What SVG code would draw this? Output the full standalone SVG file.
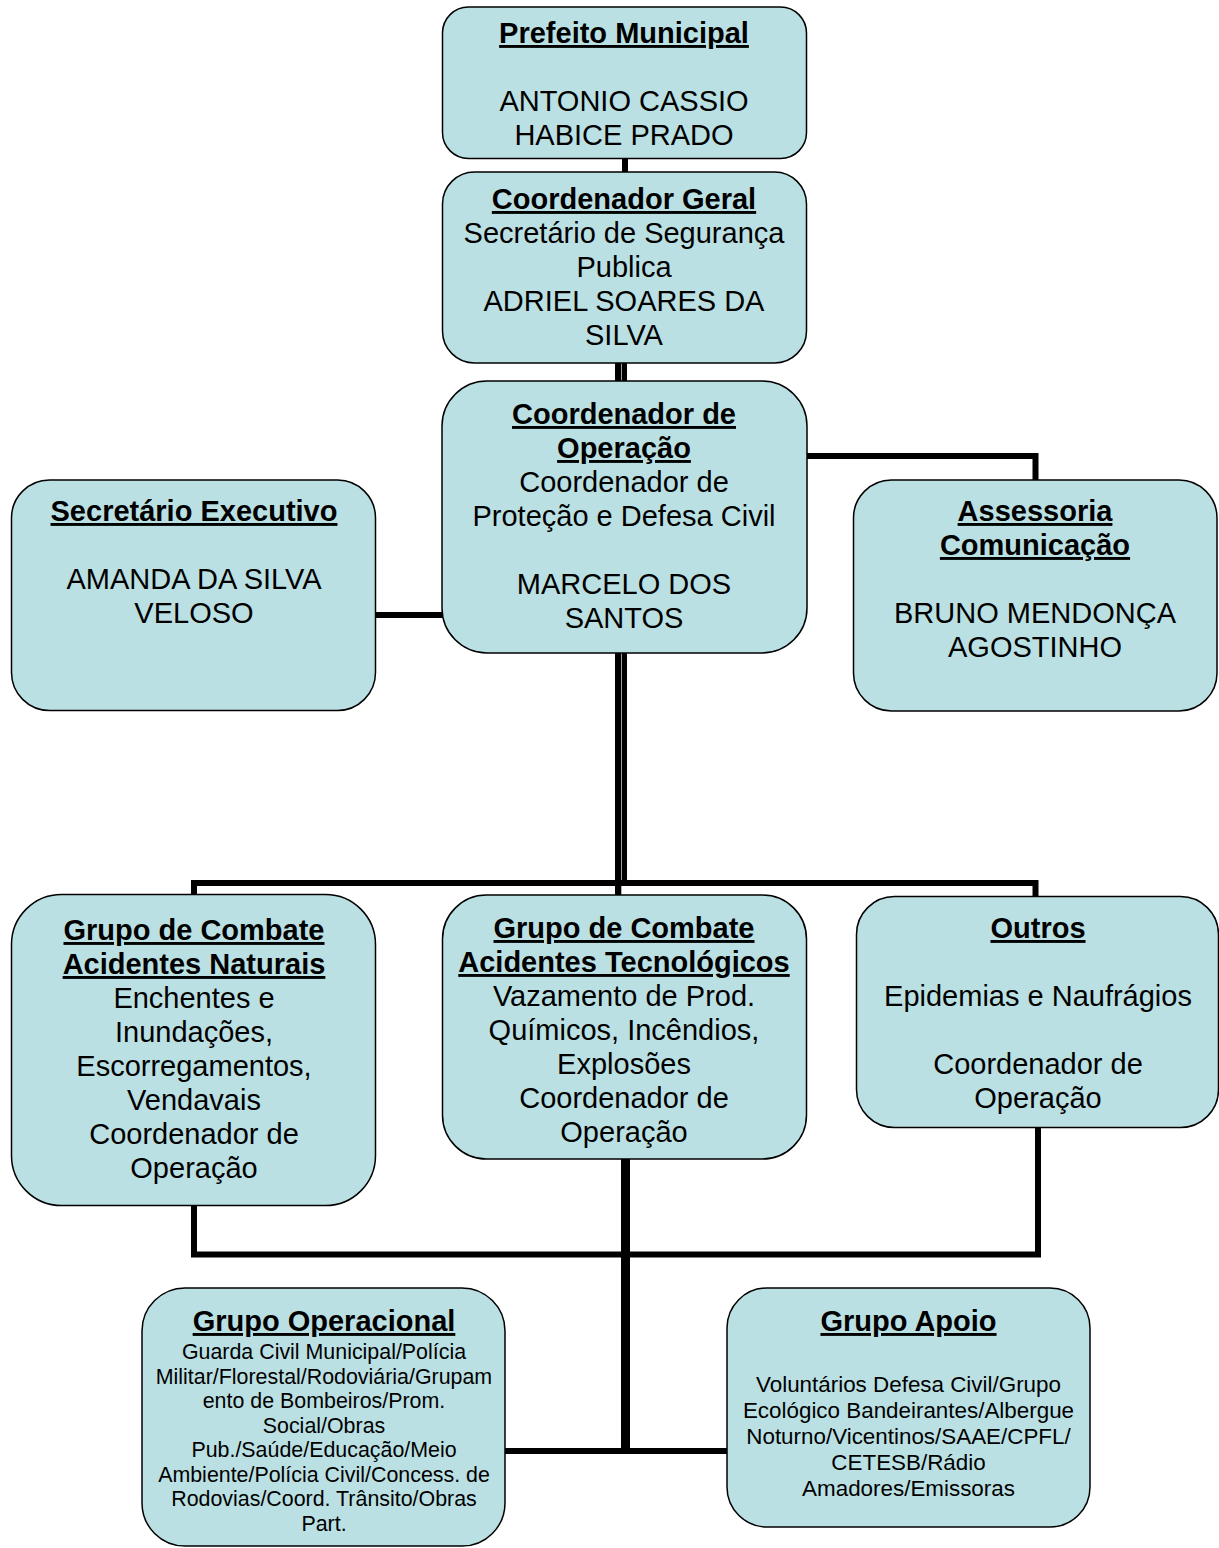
<svg xmlns="http://www.w3.org/2000/svg" width="1219" height="1548" viewBox="0 0 1219 1548">
  <style>
    .box { fill: #BBE0E3; stroke: #000; stroke-width: 1.5; }
    .wire { fill: none; stroke: #000; stroke-width: 6; stroke-linejoin: miter; stroke-linecap: butt; }
    .bar { fill: #000; }
    text { font-family: "Liberation Sans", Arial, sans-serif; fill: #000; text-anchor: middle; }
    .t { font-size: 29px; }
    .h { font-size: 29px; font-weight: bold; text-decoration: underline; }
    .s { font-size: 21.4px; }
    .a { font-size: 22.4px; }
  </style>

  <!-- connectors, drawn beneath the boxes -->
  <g id="connectors">
    <rect class="bar" x="622" y="156" width="6" height="18"/>
    <rect class="bar" x="615" y="361" width="6.3" height="22"/>
    <rect class="bar" x="621.9" y="361" width="5.1" height="22"/>
    <rect class="bar" x="374" y="612" width="70" height="6"/>
    <path class="wire" d="M804 456 H1035.5 V482"/>
    <rect class="bar" x="615" y="651" width="6.3" height="246"/>
    <rect class="bar" x="621.9" y="651" width="5.1" height="232"/>
    <path class="wire" d="M194 897 V883 H1035.5 V899"/>
    <path class="wire" d="M194 1203 V1254.5 H1038 V1125"/>
    <rect class="bar" x="621" y="1157" width="9" height="297"/>
    <rect class="bar" x="503" y="1448" width="226" height="6"/>
  </g>

  <g id="prefeito">
    <rect class="box" x="442.5" y="7" width="364" height="151.5" rx="26"/>
    <text class="h" x="624" y="43">Prefeito Municipal</text>
    <text class="t" x="624" y="111">ANTONIO CASSIO</text>
    <text class="t" x="624" y="145">HABICE PRADO</text>
  </g>

  <g id="coordenador-geral">
    <rect class="box" x="442.5" y="172" width="364" height="191" rx="32"/>
    <text class="h" x="624" y="209">Coordenador Geral</text>
    <text class="t" x="624" y="243">Secretário de Segurança</text>
    <text class="t" x="624" y="277">Publica</text>
    <text class="t" x="624" y="311">ADRIEL SOARES DA</text>
    <text class="t" x="624" y="345">SILVA</text>
  </g>

  <g id="coordenador-operacao">
    <rect class="box" x="442" y="381" width="365" height="272" rx="45"/>
    <text class="h" x="624" y="424">Coordenador de</text>
    <text class="h" x="624" y="458">Operação</text>
    <text class="t" x="624" y="492">Coordenador de</text>
    <text class="t" x="624" y="526">Proteção e Defesa Civil</text>
    <text class="t" x="624" y="594">MARCELO DOS</text>
    <text class="t" x="624" y="628">SANTOS</text>
  </g>

  <g id="secretario-executivo">
    <rect class="box" x="11.5" y="480" width="364" height="230.5" rx="38"/>
    <text class="h" x="194" y="521">Secretário Executivo</text>
    <text class="t" x="194" y="589">AMANDA DA SILVA</text>
    <text class="t" x="194" y="623">VELOSO</text>
  </g>

  <g id="assessoria">
    <rect class="box" x="853.5" y="480" width="363.5" height="231" rx="38"/>
    <text class="h" x="1035" y="521">Assessoria</text>
    <text class="h" x="1035" y="555">Comunicação</text>
    <text class="t" x="1035" y="623">BRUNO MENDONÇA</text>
    <text class="t" x="1035" y="657">AGOSTINHO</text>
  </g>

  <g id="acidentes-naturais">
    <rect class="box" x="11.5" y="894.5" width="364" height="311" rx="50"/>
    <text class="h" x="194" y="940">Grupo de Combate</text>
    <text class="h" x="194" y="974">Acidentes Naturais</text>
    <text class="t" x="194" y="1008">Enchentes e</text>
    <text class="t" x="194" y="1042">Inundações,</text>
    <text class="t" x="194" y="1076">Escorregamentos,</text>
    <text class="t" x="194" y="1110">Vendavais</text>
    <text class="t" x="194" y="1144">Coordenador de</text>
    <text class="t" x="194" y="1178">Operação</text>
  </g>

  <g id="acidentes-tecnologicos">
    <rect class="box" x="442.5" y="895" width="364" height="264" rx="44"/>
    <text class="h" x="624" y="938">Grupo de Combate</text>
    <text class="h" x="624" y="972">Acidentes Tecnológicos</text>
    <text class="t" x="624" y="1006">Vazamento de Prod.</text>
    <text class="t" x="624" y="1040">Químicos, Incêndios,</text>
    <text class="t" x="624" y="1074">Explosões</text>
    <text class="t" x="624" y="1108">Coordenador de</text>
    <text class="t" x="624" y="1142">Operação</text>
  </g>

  <g id="outros">
    <rect class="box" x="856.5" y="896.5" width="362" height="231" rx="38"/>
    <text class="h" x="1038" y="938">Outros</text>
    <text class="t" x="1038" y="1006">Epidemias e Naufrágios</text>
    <text class="t" x="1038" y="1074">Coordenador de</text>
    <text class="t" x="1038" y="1108">Operação</text>
  </g>

  <g id="grupo-operacional">
    <rect class="box" x="142" y="1288" width="363" height="258" rx="43"/>
    <text class="h" x="324" y="1331">Grupo Operacional</text>
    <text class="s" x="324" y="1359">Guarda Civil Municipal/Polícia</text>
    <text class="s" x="324" y="1383.5">Militar/Florestal/Rodoviária/Grupam</text>
    <text class="s" x="324" y="1408">ento de Bombeiros/Prom.</text>
    <text class="s" x="324" y="1432.5">Social/Obras</text>
    <text class="s" x="324" y="1457">Pub./Saúde/Educação/Meio</text>
    <text class="s" x="324" y="1481.5">Ambiente/Polícia Civil/Concess. de</text>
    <text class="s" x="324" y="1506">Rodovias/Coord. Trânsito/Obras</text>
    <text class="s" x="324" y="1530.5">Part.</text>
  </g>

  <g id="grupo-apoio">
    <rect class="box" x="727" y="1288" width="363" height="239" rx="40"/>
    <text class="h" x="908.5" y="1331">Grupo Apoio</text>
    <text class="a" x="908.5" y="1392">Voluntários Defesa Civil/Grupo</text>
    <text class="a" x="908.5" y="1418">Ecológico Bandeirantes/Albergue</text>
    <text class="a" x="908.5" y="1444">Noturno/Vicentinos/SAAE/CPFL/</text>
    <text class="a" x="908.5" y="1470">CETESB/Rádio</text>
    <text class="a" x="908.5" y="1496">Amadores/Emissoras</text>
  </g>
</svg>
